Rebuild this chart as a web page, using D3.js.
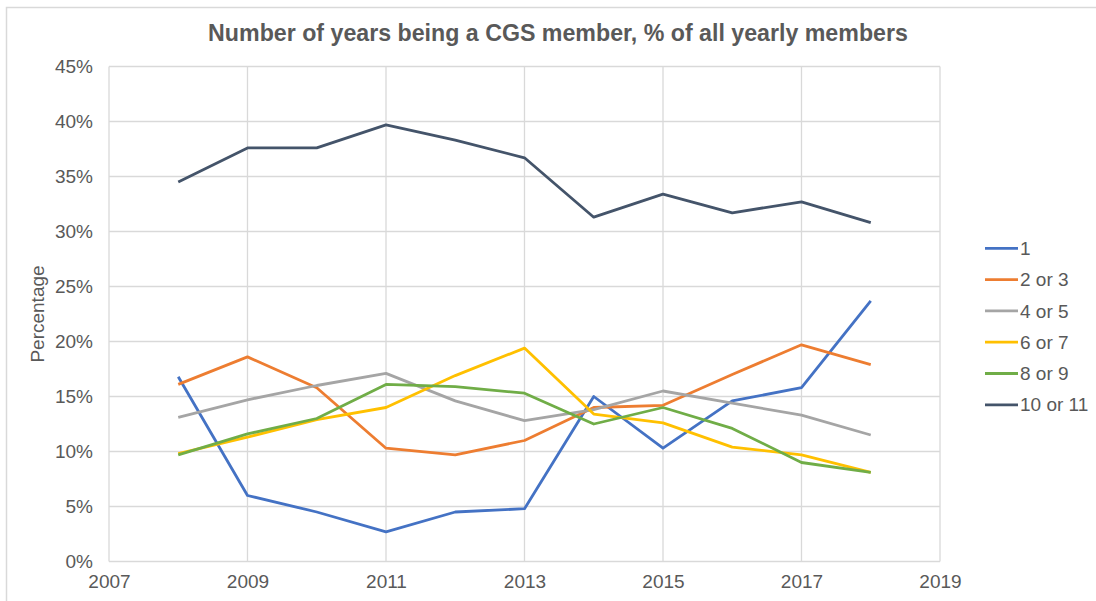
<!DOCTYPE html>
<html>
<head>
<meta charset="utf-8" />
<title>CGS members</title>
<script src="https://cdn.jsdelivr.net/npm/d3@7"></script>
<style>
  body { margin: 0; background: #fff; }
  text { font-family: "Liberation Sans", Arial, sans-serif; fill: #595959; }
</style>
</head>
<body>
<div id="chart"></div>
<script>
// data (percent of yearly members)
var years = [2008, 2009, 2010, 2011, 2012, 2013, 2014, 2015, 2016, 2017, 2018];
var seriesNames = ["1", "2 or 3", "4 or 5", "6 or 7", "8 or 9", "10 or 11"];
var colors = ["#4472C4", "#ED7D31", "#A5A5A5", "#FFC000", "#70AD47", "#44546A"];
var s1 = [16.8, 6.0, 4.5, 2.7, 4.5, 4.8, 15.0, 10.3, 14.6, 15.8, 23.7];
var s2or3 = [16.1, 18.6, 15.8, 10.3, 9.7, 11.0, 14.0, 14.2, 17.0, 19.7, 17.9];
var s4or5 = [13.1, 14.7, 16.0, 17.1, 14.6, 12.8, 13.8, 15.5, 14.4, 13.3, 11.5];
var s6or7 = [9.8, 11.3, 12.9, 14.0, 16.9, 19.4, 13.4, 12.6, 10.4, 9.7, 8.1];
var s8or9 = [9.7, 11.6, 13.0, 16.1, 15.9, 15.3, 12.5, 14.0, 12.1, 9.0, 8.1];
var s10or11 = [34.5, 37.6, 37.6, 39.7, 38.3, 36.7, 31.3, 33.4, 31.7, 32.7, 30.8];
var allSeries = [s1, s2or3, s4or5, s6or7, s8or9, s10or11];
var xTicks = [2007, 2009, 2011, 2013, 2015, 2017, 2019];
var yTicks = [0, 5, 10, 15, 20, 25, 30, 35, 40, 45];

var w = 1096, h = 601;
var plotLeft = 109, plotRight = 940, plotTop = 66.5, plotBottom = 561.5;

var svg = d3.select("#chart").append("svg")
    .attr("width", w)
    .attr("height", h);

// outer chart border
svg.append("rect")
    .attr("x", 6.5).attr("y", 7.5)
    .attr("width", w).attr("height", h)
    .attr("fill", "none")
    .attr("stroke", "#d9d9d9")
    .attr("stroke-width", 1.5);

var x = d3.scaleLinear().domain([2007, 2019]).range([plotLeft, plotRight]);
var y = d3.scaleLinear().domain([0, 45]).range([plotBottom, plotTop]);

// gridlines
svg.append("g")
    .selectAll("line.h")
    .data(yTicks)
    .enter()
    .append("line")
    .attr("x1", plotLeft).attr("x2", plotRight)
    .attr("y1", function (d) { return y(d); })
    .attr("y2", function (d) { return y(d); })
    .attr("stroke", "#d9d9d9")
    .attr("stroke-width", 1.3);

svg.append("g")
    .selectAll("line.v")
    .data(xTicks)
    .enter()
    .append("line")
    .attr("y1", plotTop).attr("y2", plotBottom)
    .attr("x1", function (d) { return x(d); })
    .attr("x2", function (d) { return x(d); })
    .attr("stroke", "#d9d9d9")
    .attr("stroke-width", 1.3);

// axes labels via d3 axes, lines hidden
var yAxis = svg.append("g")
    .attr("transform", "translate(" + (plotLeft - 16) + ",0)")
    .call(d3.axisLeft(y).tickValues(yTicks).tickSize(0).tickPadding(0)
        .tickFormat(function (d) { return d + "%"; }));
var xAxis = svg.append("g")
    .attr("transform", "translate(0," + (plotBottom + 13) + ")")
    .call(d3.axisBottom(x).tickValues(xTicks).tickSize(0).tickPadding(0)
        .tickFormat(d3.format("d")));
[yAxis, xAxis].forEach(function (a) {
    a.select(".domain").remove();
    a.selectAll("text")
        .attr("font-size", "19px")
        .attr("font-family", "'Liberation Sans', Arial, sans-serif")
        .style("fill", "#595959");
});

// lines
var line = d3.line()
    .x(function (d, i) { return x(years[i]); })
    .y(function (d) { return y(d); });

svg.append("g")
    .selectAll("path")
    .data(allSeries)
    .enter()
    .append("path")
    .attr("d", function (d) { return line(d); })
    .attr("fill", "none")
    .attr("stroke", function (d, i) { return colors[i]; })
    .attr("stroke-width", 2.8)
    .attr("stroke-linejoin", "round");

// title
svg.append("text")
    .attr("x", 558).attr("y", 41)
    .attr("text-anchor", "middle")
    .attr("font-size", "23.2px")
    .attr("font-weight", "bold")
    .text("Number of years being a CGS member, % of all yearly members");

// y axis title
svg.append("text")
    .attr("transform", "translate(44,314) rotate(-90)")
    .attr("text-anchor", "middle")
    .attr("font-size", "19px")
    .text("Percentage");

// legend
var legend = svg.append("g")
    .selectAll("g")
    .data(seriesNames)
    .enter()
    .append("g")
    .attr("transform", function (d, i) { return "translate(985," + (248.3 + i * 31.3) + ")"; });
legend.append("line")
    .attr("x1", 0).attr("x2", 33)
    .attr("stroke", function (d, i) { return colors[i]; })
    .attr("stroke-width", 2.8);
legend.append("text")
    .attr("x", 35).attr("dy", "0.35em")
    .attr("font-size", "19px")
    .text(function (d) { return d; });
</script>
</body>
</html>
